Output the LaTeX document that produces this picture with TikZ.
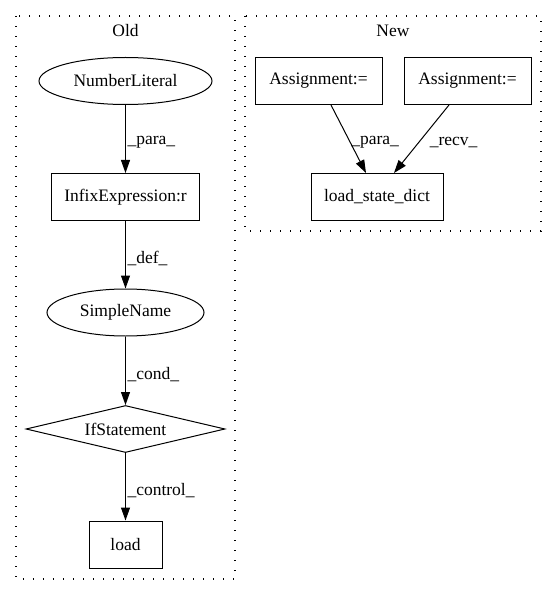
\documentclass[tikz,border=0pt]{standalone}
\usepackage{fontspec}
\setmainfont{Liberation Serif}
\usetikzlibrary{shapes.geometric,arrows.meta}
\begin{document}
\begin{tikzpicture}[x=1pt,y=-1pt,
  every node/.style={font=\fontsize{17.5}{20}\selectfont, inner sep=0pt},
  rectnode/.style={draw, line width=1pt, rectangle, minimum height=47pt},
  ellnode/.style={draw, line width=1pt, ellipse, minimum height=47pt},
  dianode/.style={draw, line width=1pt, diamond, shape aspect=4.23, minimum width=199pt, minimum height=47pt},
  cluster/.style={draw, line width=1.3pt, dash pattern=on 1.3pt off 8.7pt},
  edge/.style={draw, line width=1pt, -{Triangle[length=13pt,width=9pt]}},
  lbl/.style={anchor=west, pos=0.55, xshift=1.5pt}
]
\useasboundingbox (0,0) rectangle (557,596);

% clusters
\draw[cluster] (16,16) rectangle (235,579);
\draw[cluster] (245,16) rectangle (541,231);
\node (oldt) at (125.5,31) {Old};
\node (newt) at (393,31) {New};

% Old
\node[ellnode, minimum width=173pt] (nl) at (125.5,81) {NumberLiteral};
\node[rectnode, minimum width=148pt] (infix) at (125.5,197) {InfixExpression:r};
\node[ellnode, minimum width=157pt] (sn) at (125.5,312.5) {SimpleName};
\node[dianode] (ifs) at (125.5,429) {IfStatement};
\node[rectnode, minimum width=73pt] (load) at (125.5,544.5) {load};

\draw[edge] (nl) -- (infix) node[lbl] {\_para\_};
\draw[edge] (infix) -- (sn) node[lbl] {\_def\_};
\draw[edge] (sn) -- (ifs) node[lbl] {\_cond\_};
\draw[edge] (ifs) -- (load) node[lbl] {\_control\_};

% New
\node[rectnode, minimum width=127pt] (a1) at (318.5,81) {Assignment:=};
\node[rectnode, minimum width=127pt] (a2) at (467.5,81) {Assignment:=};
\node[rectnode, minimum width=132pt] (lsd) at (377,197) {load\_state\_dict};

\draw[edge] ([xshift=12.5pt]a1.south) -- ([xshift=-11pt]lsd.north) node[lbl, xshift=-1pt] {\_para\_};
\draw[edge] ([xshift=-18.5pt]a2.south) -- ([xshift=17pt]lsd.north) node[lbl, xshift=9pt] {\_recv\_};
\end{tikzpicture}
\end{document}
